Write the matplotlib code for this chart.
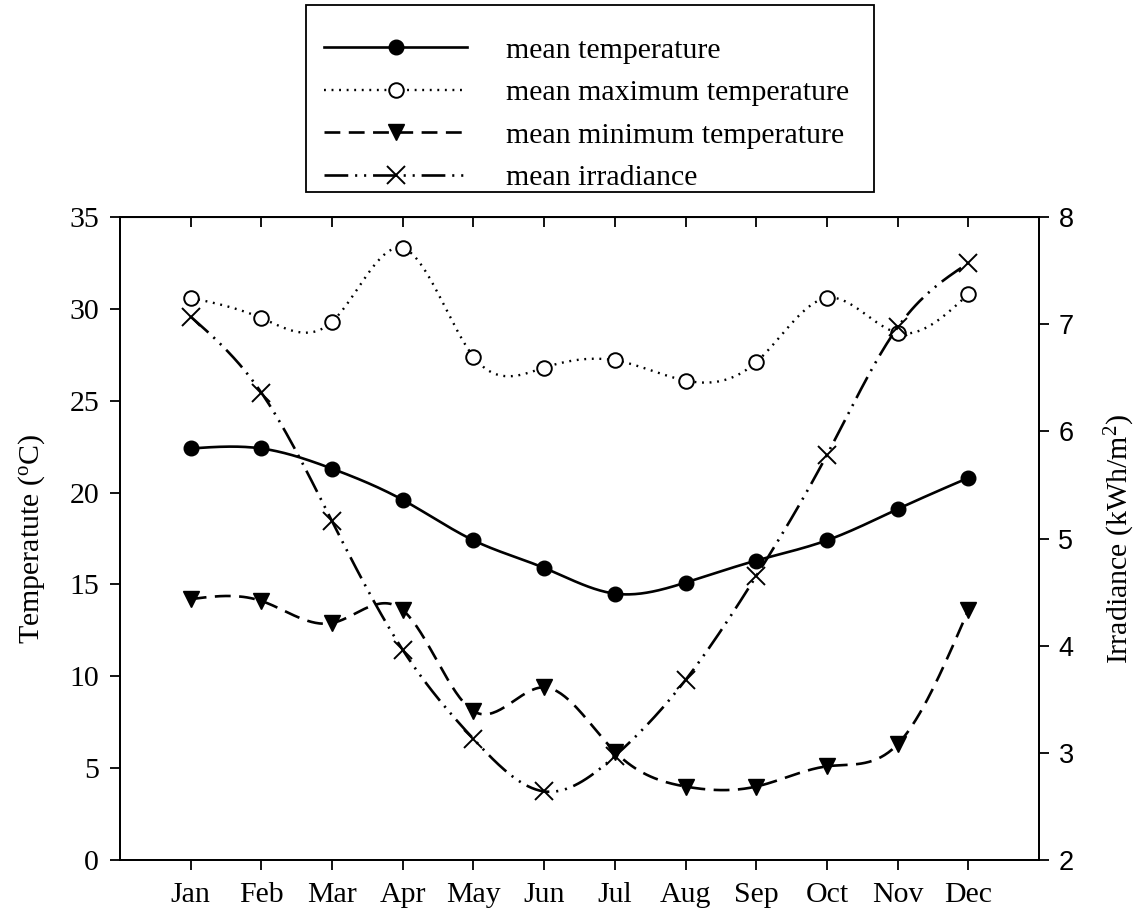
import numpy as np
import matplotlib
matplotlib.use("Agg")
import matplotlib.pyplot as plt
from matplotlib.lines import Line2D
from matplotlib.patches import Rectangle

plt.rcParams["font.family"] = "Liberation Serif"
plt.rcParams["mathtext.fontset"] = "custom"
plt.rcParams["mathtext.rm"] = "Liberation Serif"
plt.rcParams["mathtext.it"] = "Liberation Serif:italic"

months = ["Jan", "Feb", "Mar", "Apr", "May", "Jun",
          "Jul", "Aug", "Sep", "Oct", "Nov", "Dec"]
mean_temp = [22.4, 22.4, 21.3, 19.6, 17.4, 15.9, 14.5, 15.1, 16.3, 17.4, 19.1, 20.8]
max_temp = [30.6, 29.5, 29.3, 33.3, 27.4, 26.8, 27.2, 26.1, 27.1, 30.6, 28.7, 30.8]
min_temp = [14.2, 14.1, 12.9, 13.6, 8.1, 9.4, 5.9, 4.0, 4.0, 5.1, 6.3, 13.6]
irradiance = [7.07, 6.36, 5.16, 3.96, 3.13, 2.64, 2.97, 3.68, 4.65, 5.78, 6.97, 7.57]


def natural_spline(x, y, n=400):
    """Natural cubic spline through (x, y), sampled at n points."""
    x = np.asarray(x, float)
    y = np.asarray(y, float)
    h = np.diff(x)
    m = len(x)
    A = np.zeros((m, m))
    r = np.zeros(m)
    A[0, 0] = A[-1, -1] = 1.0
    for i in range(1, m - 1):
        A[i, i - 1] = h[i - 1]
        A[i, i] = 2 * (h[i - 1] + h[i])
        A[i, i + 1] = h[i]
        r[i] = 3 * ((y[i + 1] - y[i]) / h[i] - (y[i] - y[i - 1]) / h[i - 1])
    c = np.linalg.solve(A, r)
    b = (y[1:] - y[:-1]) / h - h * (2 * c[:-1] + c[1:]) / 3
    d = (c[1:] - c[:-1]) / (3 * h)
    xs = np.linspace(x[0], x[-1], n)
    idx = np.clip(np.searchsorted(x, xs) - 1, 0, m - 2)
    dx = xs - x[idx]
    ys = y[idx] + b[idx] * dx + c[idx] * dx ** 2 + d[idx] * dx ** 3
    return xs, ys


x = np.arange(1, len(months) + 1)

styles = {
    "mean": dict(color="black", lw=1.9, ls="-"),
    "max": dict(color="black", lw=1.7, ls=(0, (0.8, 2.4))),
    "min": dict(color="black", lw=1.9, ls=(0, (6, 3.2))),
    "irr": dict(color="black", lw=1.9, ls=(0, (9, 2.6, 0.8, 2.6, 0.8, 2.6))),
}
markers = {
    "mean": dict(marker="o", ms=10.5, mfc="black", mec="black"),
    "max": dict(marker="o", ms=10.5, mfc="white", mec="black", mew=1.4),
    "min": dict(marker="v", ms=11.5, mfc="black", mec="black"),
    "irr": dict(marker="x", ms=13, mec="black", mew=1.4),
}

W, H = 1141, 921
fig = plt.figure(figsize=(W / 100, H / 100), dpi=100)
ax = fig.add_axes([0.1052, 0.0662, 0.8054, 0.6982])
ax2 = ax.twinx()

for key, vals in [("mean", mean_temp), ("max", max_temp), ("min", min_temp)]:
    xs, ys = natural_spline(x, vals)
    ax.plot(xs, ys, **styles[key], zorder=2)
    ax.plot(x, vals, ls="none", **markers[key], zorder=3)

xs, ys = natural_spline(x, irradiance)
ax2.plot(xs, ys, **styles["irr"], zorder=2)
ax2.plot(x, irradiance, ls="none", **markers["irr"], zorder=3)

ax.set_xlim(0, 13)
ax.set_ylim(0, 35)
ax2.set_ylim(2, 8)
ax.set_xticks(x)
ax.set_xticklabels(months)
ax.set_yticks(np.arange(0, 36, 5))
ax2.set_yticks(np.arange(2, 9, 1))

ax.tick_params(axis="both", direction="out", length=7, width=1.3,
               labelsize=21.5, pad=8)
ax.tick_params(axis="x", pad=9)
ax2.tick_params(axis="y", direction="out", length=7, width=1.3, pad=7)
for lab in ax2.get_yticklabels():
    lab.set_fontfamily("Liberation Sans")
    lab.set_fontsize(19.5)

# inward month ticks along the top edge
top = ax.secondary_xaxis("top")
top.set_xticks(x)
top.tick_params(direction="in", length=7, width=1.3, labeltop=False)

for a in (ax, ax2):
    for sp in a.spines.values():
        sp.set_linewidth(1.3)

ax.set_ylabel("Temperatute ($^{\\mathrm{o}}$C)", fontsize=21.5)
ax.yaxis.set_label_coords(-0.080, 0.5)
ax2.set_ylabel("Irradiance (kWh/m$^{\\mathrm{2}}$)", fontsize=21.5)
ax2.yaxis.set_label_coords(1.070, 0.5)

# legend entries without frame, box drawn separately in figure pixels
labels = ["mean temperature", "mean maximum temperature",
          "mean minimum temperature", "mean irradiance"]
handles = [Line2D([], [], **styles[k], **markers[k])
           for k in ("mean", "max", "min", "irr")]
fig.legend(handles, labels, loc="upper left",
           bbox_to_anchor=(324 / W, 1 - 37 / H),
           borderaxespad=0, borderpad=0, fontsize=21.5, numpoints=1,
           handlelength=4.8, handletextpad=1.3, labelspacing=0.52,
           frameon=False)
fig.patches.append(Rectangle((306 / W, 1 - 192 / H), (874 - 306) / W, (192 - 5) / H,
                             transform=fig.transFigure, fill=False,
                             edgecolor="black", linewidth=1.3))

fig.savefig("out.png", dpi=100)
